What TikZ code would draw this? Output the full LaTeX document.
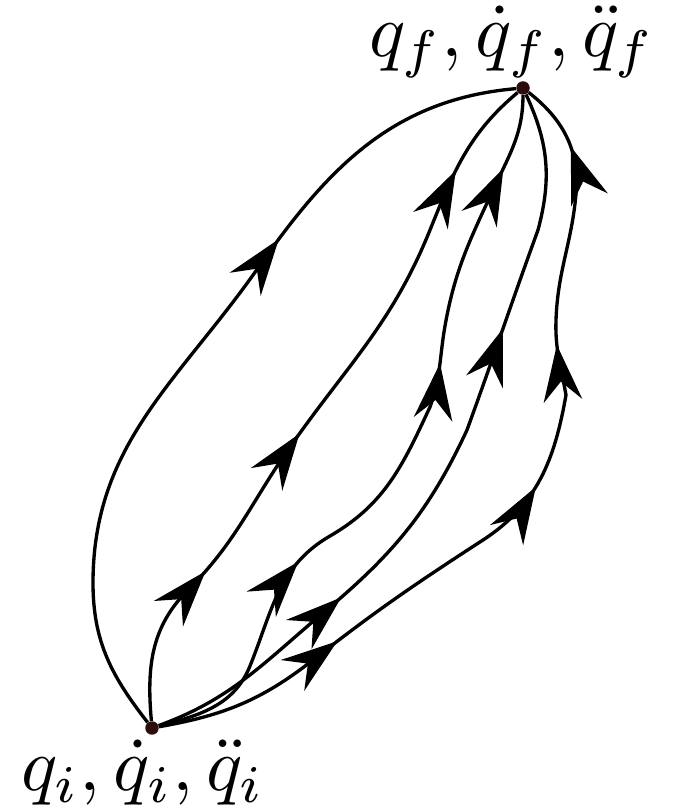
\documentclass[tikz,border=0pt]{standalone}
\usepackage{amsmath}
\usepackage{amssymb}
\usetikzlibrary{arrows.meta,
                decorations.markings}
\definecolor{dotcol}{RGB}{45,12,12}

\begin{document}
\begin{tikzpicture}[x=0.02cm,y=0.02cm,
    traj/.style={line width=1.9pt},
    flow/.style={postaction={decorate,decoration={markings,
        mark=at position #1 with {\arrow{Stealth[length=32pt,width=22pt,inset=11pt]}}}}},
    endpt/.style={circle,fill=dotcol,inner sep=0pt,minimum size=0.27cm},
    endlabel/.style={scale=4.3,inner sep=0pt}]
    % Keep the size of the reference
    \useasboundingbox (0,0) rectangle (673,806);

    % Initial and final states
    \node[endpt] (qi) at (152,78) {};
    \node[endpt] (qf) at (523,718) {};
    \node[endlabel] (li) at (143,33) {$q_i, \dot{q}_i, \ddot{q}_i$};
    \node[endlabel] (lf) at (512,764) {$q_f, \dot{q}_f, \ddot{q}_f$};

    % Outer trajectory
    \draw[traj,flow=0.655] (qi) to[out=128,in=-90] (93,223)
        to[out=90,in=-125] (258,538) to[out=55,in=185] (qf);

    % Second trajectory
    \draw[traj,flow=0.225,flow=0.45,flow=0.865] (qi) to[out=95,in=-135] (188,216)
        to[out=45,in=-125] (290,359) to[out=55,in=-112] (430,576)
        to[out=68,in=-140] (qf);

    % Third trajectory
    \draw[traj,flow=0.30,flow=0.63,flow=0.90] (qi) to[out=15,in=-112] (250,140)
        to[out=68,in=-150] (330,270) to[out=30,in=-115] (430,399)
        to[out=70,in=-100] (445,480) to[out=80,in=-115] (495,620)
        to[out=65,in=-90] (qf);

    % Fourth trajectory
    \draw[traj,flow=0.285,flow=0.69] (qi) to[out=20,in=-140] (323,193)
        to[out=40,in=-115] (467,376) to[out=70,in=-110] (538,576)
        to[out=75,in=-65] (qf);

    % Fifth trajectory
    \draw[traj,flow=0.23,flow=0.52,flow=0.69,flow=0.92] (qi) to[out=10,in=-142] (313,146)
        to[out=38,in=-147] (483,266) to[out=33,in=-100] (566,411)
        to[out=100,in=-92] (556,486) to[out=88,in=-95] (576,612)
        to[out=85,in=-38] (qf);
\end{tikzpicture}
\end{document}
